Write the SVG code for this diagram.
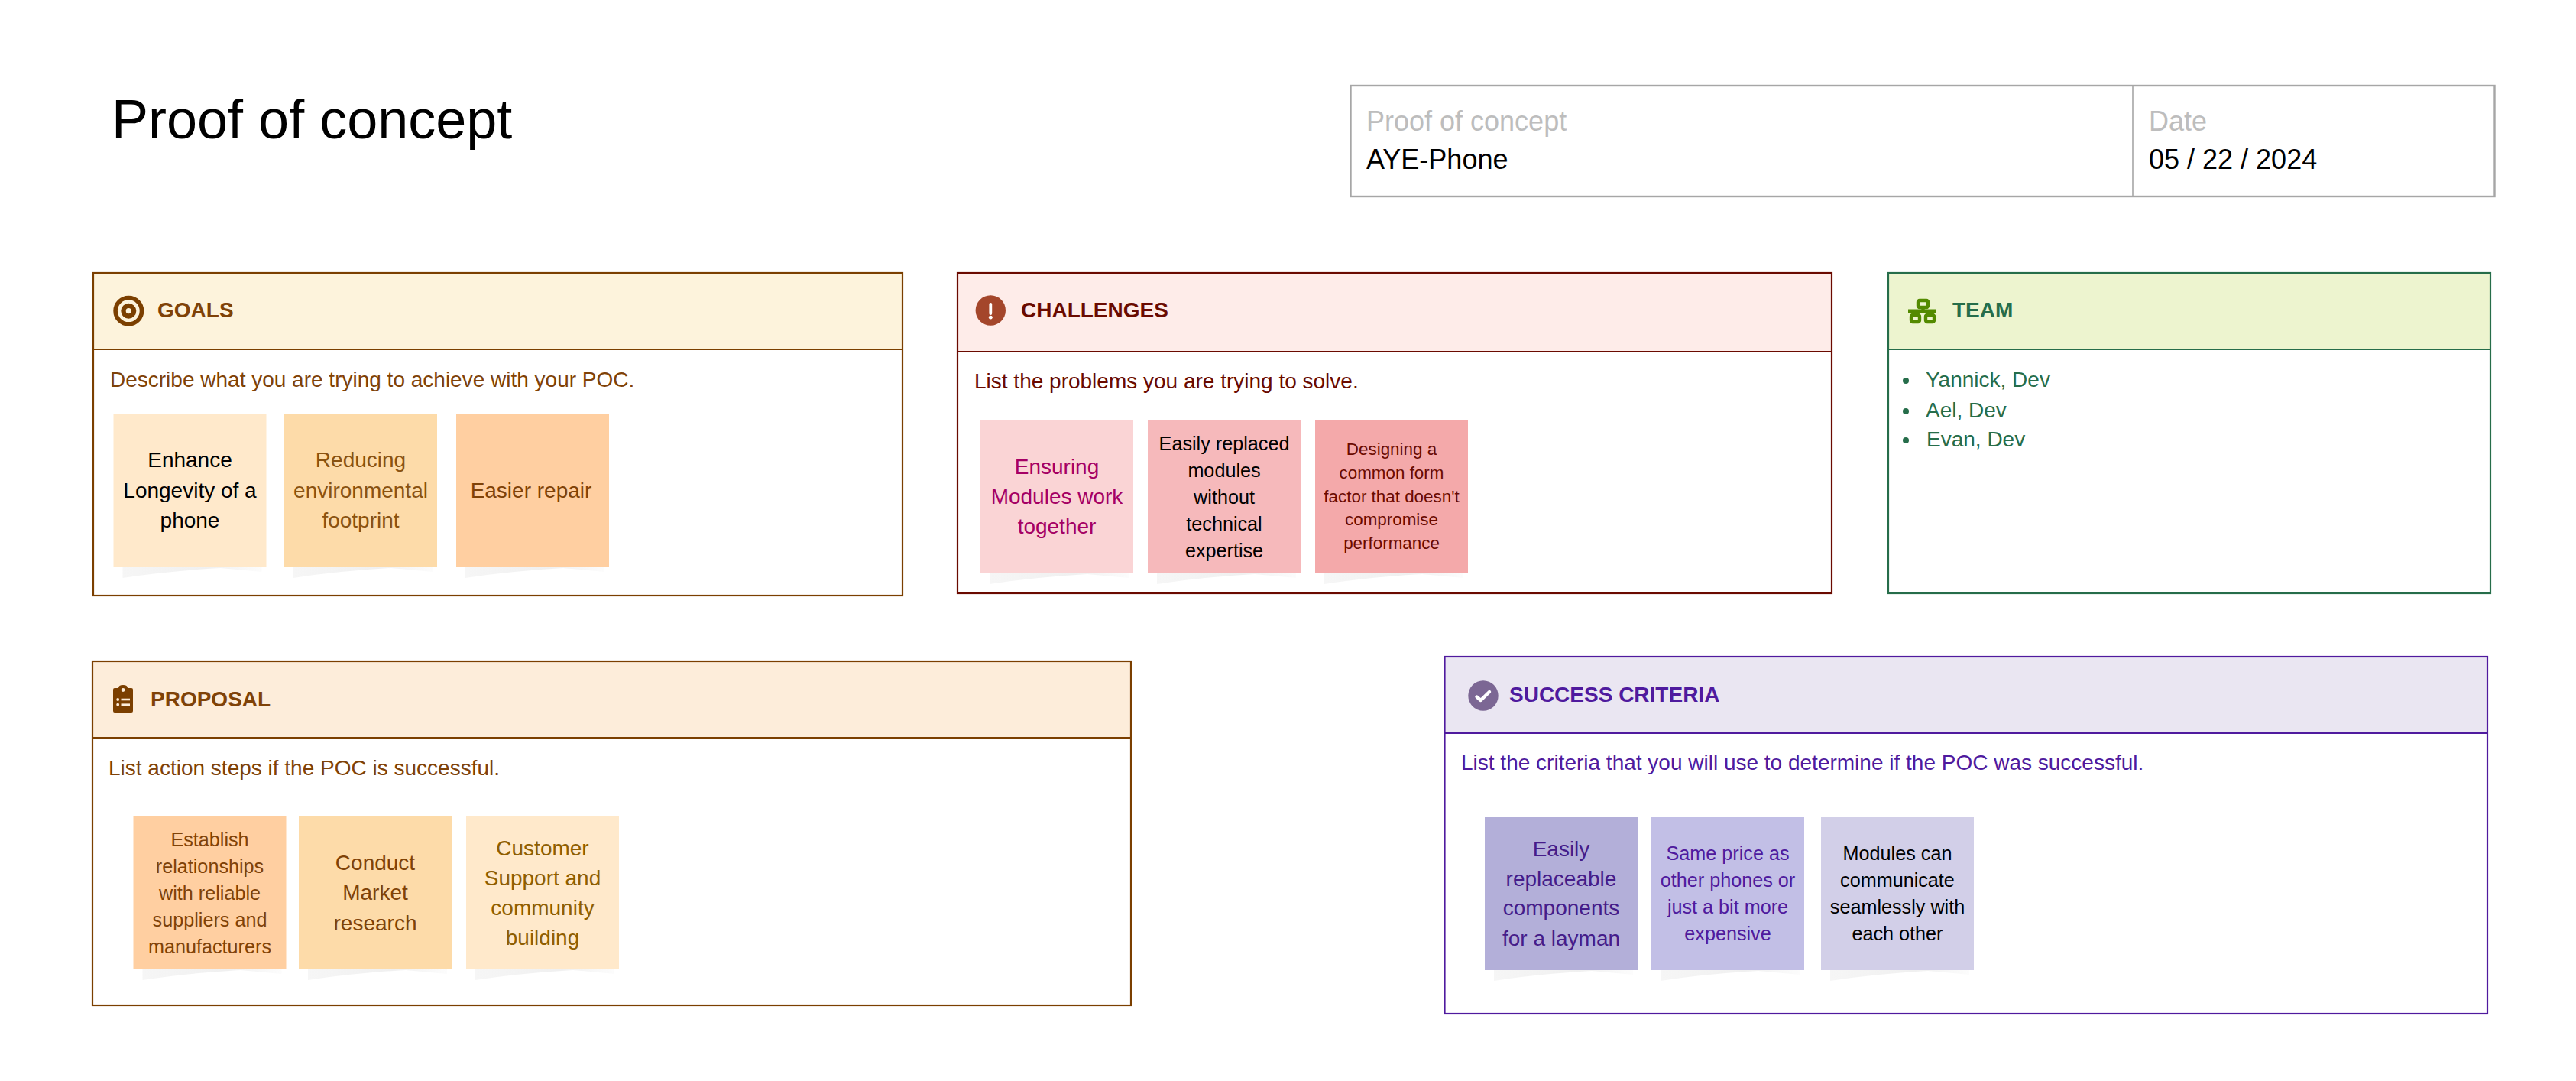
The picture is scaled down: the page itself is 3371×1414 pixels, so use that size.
<svg xmlns="http://www.w3.org/2000/svg" width="3371" height="1414" viewBox="0 0 3371 1414">
<style>
text{font-family:"Liberation Sans",Arial,sans-serif;font-size:28px}
.title{font-size:72px;fill:#000}
.lbl{font-size:36px;fill:#bdbdbd}
.val{font-size:36px;fill:#000}
.h{font-weight:bold;font-size:28px}
.c{text-anchor:middle}
.s24{font-size:25.2px}
.s21{font-size:22.4px}
.frame{fill:none;stroke-width:2.2}
.shadow{fill:url(#sh)}
.br{fill:#7f4207}
.brs{stroke:#7b3f00}
.red{fill:#6a0a00}
.grn{fill:#266d4a}
.pur{fill:#4f1a9e}
</style>
<defs>
<linearGradient id="sh" x1="0" x2="1" y1="0" y2="0"><stop offset="0" stop-color="#f6f6f6"/><stop offset="0.6" stop-color="#f0f0f0"/><stop offset="1" stop-color="#fcfcfc"/></linearGradient>
<path id="shadow" d="M12 200V214Q70 205 140 201L194 206V200Z"/>
</defs>
<rect width="3371" height="1414" fill="#fff"/>

<g id="title"><text class="title" x="146" y="180.5">Proof of concept</text></g>

<g id="info-table">
<rect x="1767.5" y="112" width="1497" height="145" fill="#fff" stroke="#a6a6a6" stroke-width="2.4"/>
<line x1="2791" y1="112" x2="2791" y2="257" stroke="#a6a6a6" stroke-width="1.6"/>
<text class="lbl" x="1788" y="171">Proof of concept</text>
<text class="val" x="1788" y="221">AYE-Phone</text>
<text class="lbl" x="2812" y="171">Date</text>
<text class="val" x="2812" y="221">05 / 22 / 2024</text>
</g>

<g id="goals">
<rect x="122" y="357" width="1059" height="100" fill="#fdf3dc"/>
<rect class="frame brs" x="122" y="357" width="1059" height="422"/>
<line class="brs" x1="122" y1="457" x2="1181" y2="457" stroke-width="2.2"/>
<circle cx="168.3" cy="406.7" r="17.2" fill="none" stroke="#7b3f00" stroke-width="5.6"/>
<circle cx="168.3" cy="406.7" r="6.8" fill="none" stroke="#7b3f00" stroke-width="6.4"/>
<text class="h br" x="206" y="415">GOALS</text>
<text class="br" x="144" y="505.5">Describe what you are trying to achieve with your POC.</text>
<g id="goals-note-1"><use href="#shadow" class="shadow" x="148.5" y="542"/><rect x="148.5" y="542" width="200" height="200" fill="#ffe9cb"/>
<text class="c" x="248.5" y="611" fill="#000">Enhance</text><text class="c" x="248.5" y="651" fill="#000">Longevity of a</text><text class="c" x="248.5" y="690" fill="#000">phone</text></g>
<g id="goals-note-2"><use href="#shadow" class="shadow" x="372" y="542"/><rect x="372" y="542" width="200" height="200" fill="#fddba9"/>
<text class="c" x="472" y="611" fill="#8a5210">Reducing</text><text class="c" x="472" y="651" fill="#8a5210">environmental</text><text class="c" x="472" y="690" fill="#8a5210">footprint</text></g>
<g id="goals-note-3"><use href="#shadow" class="shadow" x="597" y="542"/><rect x="597" y="542" width="200" height="200" fill="#ffcfa1"/>
<text class="c br" x="695" y="651">Easier repair</text></g>
</g>

<g id="challenges">
<rect x="1253" y="357" width="1144" height="103" fill="#feece9"/>
<rect class="frame" stroke="#6a0a00" x="1253" y="357" width="1144" height="419"/>
<line stroke="#6a0a00" x1="1253" y1="460" x2="2397" y2="460" stroke-width="2.2"/>
<circle cx="1296.3" cy="406" r="19.7" fill="#a4462b"/>
<line x1="1296.3" y1="398" x2="1296.3" y2="410" stroke="#fff" stroke-width="3.8" stroke-linecap="round"/>
<circle cx="1296.3" cy="415.2" r="2.4" fill="#fff"/>
<text class="h red" x="1336" y="415">CHALLENGES</text>
<text class="red" x="1275" y="508">List the problems you are trying to solve.</text>
<g id="challenges-note-1"><use href="#shadow" class="shadow" x="1283" y="550"/><rect x="1283" y="550" width="200" height="200" fill="#fad4d5"/>
<text class="c" x="1383" y="620" fill="#a50064">Ensuring</text><text class="c" x="1383" y="659" fill="#a50064">Modules work</text><text class="c" x="1383" y="698" fill="#a50064">together</text></g>
<g id="challenges-note-2"><use href="#shadow" class="shadow" x="1502" y="550"/><rect x="1502" y="550" width="200" height="200" fill="#f6b9bb"/>
<text class="c s24" x="1602" y="589" fill="#000">Easily replaced</text><text class="c s24" x="1602" y="624" fill="#000">modules</text><text class="c s24" x="1602" y="659" fill="#000">without</text><text class="c s24" x="1602" y="694" fill="#000">technical</text><text class="c s24" x="1602" y="729" fill="#000">expertise</text></g>
<g id="challenges-note-3"><use href="#shadow" class="shadow" x="1721" y="550"/><rect x="1721" y="550" width="200" height="200" fill="#f4a9aa"/>
<text class="c s21 red" x="1821" y="595">Designing a</text><text class="c s21 red" x="1821" y="626">common form</text><text class="c s21 red" x="1821" y="656.5">factor that doesn't</text><text class="c s21 red" x="1821" y="687">compromise</text><text class="c s21 red" x="1821" y="718">performance</text></g>
</g>

<g id="team">
<rect x="2471" y="357" width="788" height="100" fill="#edf4cf"/>
<rect class="frame" stroke="#266d4a" x="2471" y="357" width="788" height="419"/>
<line stroke="#266d4a" x1="2471" y1="457" x2="3259" y2="457" stroke-width="2.2"/>
<g fill="none" stroke="#538a00" stroke-width="4.4">
<rect x="2510" y="393" width="13" height="9" rx="2"/>
<rect x="2501" y="412" width="11" height="9" rx="2"/>
<rect x="2520" y="412" width="11" height="9" rx="2"/>
<path d="M2516.5 402V406.7M2497 406.7H2533M2506.5 406.7V412M2525.5 406.7V412"/>
</g>
<text class="h grn" x="2555" y="415">TEAM</text>
<circle class="grn" cx="2494" cy="498" r="4"/><text class="grn" x="2520" y="506">Yannick, Dev</text>
<circle class="grn" cx="2494" cy="538" r="4"/><text class="grn" x="2520" y="546">Ael, Dev</text>
<circle class="grn" cx="2494" cy="576" r="4"/><text class="grn" x="2521" y="584">Evan, Dev</text>
</g>

<g id="proposal">
<rect x="121" y="865" width="1359" height="100" fill="#fdedda"/>
<rect class="frame brs" x="121" y="865" width="1359" height="450"/>
<line class="brs" x1="121" y1="965" x2="1480" y2="965" stroke-width="2.2"/>
<path fill="#7b3f00" d="M150 900H155C155 897.5 157 896 161 896C165 896 167 897.5 167 900H172Q174 900 174 902V930Q174 932 172 932H150Q148 932 148 930V902Q148 900 150 900Z"/>
<circle cx="161" cy="902.5" r="2.4" fill="#fdedda"/>
<g fill="#fdedda"><circle cx="154.2" cy="915" r="1.9"/><circle cx="154.2" cy="921.7" r="1.9"/><rect x="158.5" y="913.7" width="11.5" height="2.6"/><rect x="158.5" y="920.4" width="11.5" height="2.6"/></g>
<text class="h br" x="197" y="924">PROPOSAL</text>
<text class="br" x="142" y="1014">List action steps if the POC is successful.</text>
<g id="proposal-note-1"><use href="#shadow" class="shadow" x="174.5" y="1068"/><rect x="174.5" y="1068" width="200" height="200" fill="#ffcfa1"/>
<text class="c s24 br" x="274.5" y="1107">Establish</text><text class="c s24 br" x="274.5" y="1142">relationships</text><text class="c s24 br" x="274.5" y="1177">with reliable</text><text class="c s24 br" x="274.5" y="1212">suppliers and</text><text class="c s24 br" x="274.5" y="1247">manufacturers</text></g>
<g id="proposal-note-2"><use href="#shadow" class="shadow" x="391" y="1068"/><rect x="391" y="1068" width="200" height="200" fill="#fddba9"/>
<text class="c br" x="491" y="1138">Conduct</text><text class="c br" x="491" y="1177">Market</text><text class="c br" x="491" y="1217">research</text></g>
<g id="proposal-note-3"><use href="#shadow" class="shadow" x="610" y="1068"/><rect x="610" y="1068" width="200" height="200" fill="#ffe9cb"/>
<text class="c" x="710" y="1119" fill="#8f5e00">Customer</text><text class="c" x="710" y="1158" fill="#8f5e00">Support and</text><text class="c" x="710" y="1197" fill="#8f5e00">community</text><text class="c" x="710" y="1236" fill="#8f5e00">building</text></g>
</g>

<g id="success-criteria">
<rect x="1890.5" y="859" width="1364.5" height="100" fill="#eae6f2"/>
<rect class="frame" stroke="#4f1a9e" x="1890.5" y="859" width="1364.5" height="467"/>
<line stroke="#4f1a9e" x1="1890.5" y1="959" x2="3255" y2="959" stroke-width="2.2"/>
<circle cx="1941" cy="910" r="19.7" fill="#7c6794"/>
<path d="M1932.5 911.5L1937.7 916L1949 905" fill="none" stroke="#fff" stroke-width="4.4" stroke-linecap="round" stroke-linejoin="round"/>
<text class="h pur" x="1975" y="917.5">SUCCESS CRITERIA</text>
<text class="pur" x="1912" y="1007">List the criteria that you will use to determine if the POC was successful.</text>
<g id="success-note-1"><use href="#shadow" class="shadow" x="1943" y="1069"/><rect x="1943" y="1069" width="200" height="200" fill="#b3afd9"/>
<text class="c" x="2043" y="1120" fill="#451c8a">Easily</text><text class="c" x="2043" y="1159" fill="#451c8a">replaceable</text><text class="c" x="2043" y="1197" fill="#451c8a">components</text><text class="c" x="2043" y="1237" fill="#451c8a">for a layman</text></g>
<g id="success-note-2"><use href="#shadow" class="shadow" x="2161" y="1069"/><rect x="2161" y="1069" width="200" height="200" fill="#c2bfe6"/>
<text class="c s24 pur" x="2261" y="1125">Same price as</text><text class="c s24 pur" x="2261" y="1160">other phones or</text><text class="c s24 pur" x="2261" y="1195">just a bit more</text><text class="c s24 pur" x="2261" y="1230">expensive</text></g>
<g id="success-note-3"><use href="#shadow" class="shadow" x="2383" y="1069"/><rect x="2383" y="1069" width="200" height="200" fill="#d2cfe8"/>
<text class="c s24" x="2483" y="1125" fill="#000">Modules can</text><text class="c s24" x="2483" y="1160" fill="#000">communicate</text><text class="c s24" x="2483" y="1195" fill="#000">seamlessly with</text><text class="c s24" x="2483" y="1230" fill="#000">each other</text></g>
</g>
</svg>
